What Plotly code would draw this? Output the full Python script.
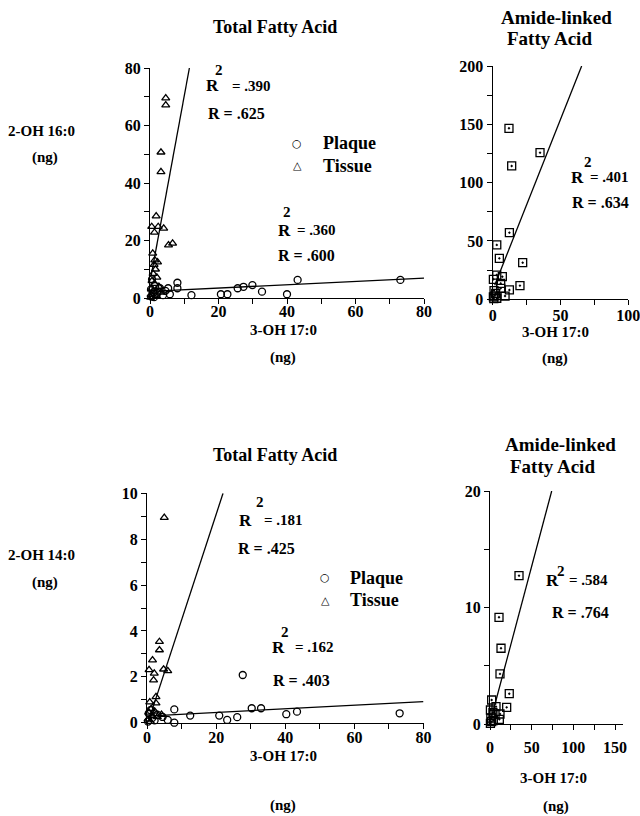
import plotly.graph_objects as go

# ---------------- DATA ----------------
# Top-left: 2-OH 16:0 vs 3-OH 17:0, total fatty acid
tl_tissue_x = [4.6, 4.6, 3.2, 3.2, 1.8, 0.5, 2.4, 4.0, 1.3, 5.4, 6.6, 1.4, 1.2, 1.6, 0.9, 2.0, 0.6, 1.3, 2.6, 0.4, 1.0, 3.2, 0.3, 1.8, 0.2, 2.2, 0.8]
tl_tissue_y = [69.5, 67.1, 50.7, 43.9, 28.5, 24.8, 24.8, 24.2, 22.8, 18.4, 19.0, 13.2, 11.6, 10.0, 8.5, 7.2, 6.0, 5.0, 4.0, 3.2, 2.4, 2.0, 1.2, 0.8, 0.2, 12.5, 15.5]
tl_plaque_x = [20.7, 22.6, 25.6, 27.3, 29.9, 32.7, 43.1, 40.0, 73.1, 8.0, 8.0, 12.1, 5.3, 5.8, 2.9, 3.8, 0.4, 1.0, 1.5, 0.6, 2.2, 0.3, 4.5, 1.2]
tl_plaque_y = [1.3, 1.3, 3.4, 3.9, 4.5, 2.2, 6.3, 1.3, 6.3, 5.3, 3.4, 1.0, 3.4, 1.3, 3.4, 1.0, 0.5, 2.0, 4.2, 6.5, 1.8, 3.0, 2.5, 0.3]
tl_tissue_fit_x = [0.3, 11.5]
tl_tissue_fit_y = [7.5, 80.0]
tl_plaque_fit_x = [0.0, 80.0]
tl_plaque_fit_y = [2.3, 6.9]

# Top-right: amide-linked fatty acid
tr_x = [12.0, 34.9, 14.0, 12.3, 3.0, 4.9, 22.1, 3.0, 7.1, 0.5, 5.9, 20.1, 12.3, 5.9, 9.1, 3.0, 2.2, 0.5, 1.0, 0.8, 1.6]
tr_y = [146.6, 125.7, 114.3, 57.1, 46.6, 35.1, 31.4, 20.8, 19.4, 17.1, 13.7, 11.7, 8.0, 9.4, 2.8, 0.9, 5.1, 2.0, 7.5, 0.5, 3.0]
tr_fit_x = [1.5, 65.6]
tr_fit_y = [12.1, 200.0]

# Bottom-left: 2-OH 14:0 vs 3-OH 17:0, total fatty acid
bl_tissue_x = [5.0, 3.6, 3.6, 1.6, 0.6, 2.1, 1.9, 4.8, 6.0, 2.6, 2.6, 1.2, 0.5, 1.5, 0.3, 2.2, 3.0, 0.8, 4.2, 1.0]
bl_tissue_y = [8.94, 3.53, 3.17, 2.73, 2.3, 2.15, 1.86, 2.33, 2.26, 1.13, 0.85, 0.6, 0.45, 0.3, 0.15, 0.5, 0.25, 0.9, 0.35, 0.05]
bl_plaque_x = [27.7, 7.9, 12.5, 20.9, 23.2, 26.1, 30.3, 33.0, 40.3, 43.4, 73.1, 6.0, 7.9, 4.5, 3.0, 1.5, 0.5, 2.2, 1.0, 0.3]
bl_plaque_y = [2.08, 0.58, 0.31, 0.31, 0.12, 0.24, 0.63, 0.63, 0.37, 0.48, 0.41, 0.12, 0.0, 0.25, 0.35, 0.2, 0.4, 0.1, 0.55, 0.05]
bl_tissue_fit_x = [0.5, 22.0]
bl_tissue_fit_y = [0.1, 10.0]
bl_plaque_fit_x = [0.0, 80.0]
bl_plaque_fit_y = [0.29, 0.92]

# Bottom-right: amide-linked fatty acid
br_x = [34.8, 10.8, 13.2, 12.0, 23.1, 2.0, 20.0, 7.2, 12.0, 6.0, 11.2, 2.0, 0.5, 1.0, 3.5, 0.5, 4.0]
br_y = [12.73, 9.16, 6.5, 4.3, 2.6, 2.06, 1.43, 1.49, 0.86, 0.86, 0.4, 0.2, 1.2, 0.5, 1.0, 0.05, 0.3]
br_fit_x = [0.0, 74.0]
br_fit_y = [0.1, 20.0]

legend_labels = ["Plaque", "Tissue"]

# ---------------- FIGURE ----------------
W, H = 640, 816
FONT = "Liberation Serif"


def px(x, y):
    return x / W, 1 - y / H


fig = go.Figure()

def scatter(x, y, xa, ya, symbol, name=None, size=7):
    fig.add_trace(go.Scatter(
        x=x, y=y, xaxis=xa, yaxis=ya, mode="markers", cliponaxis=False,
        marker=dict(symbol=symbol, size=size, color="black", line=dict(width=1.3, color="black")),
        name=name, showlegend=False))

def fitline(x, y, xa, ya):
    fig.add_trace(go.Scatter(x=x, y=y, xaxis=xa, yaxis=ya, mode="lines", cliponaxis=False,
                             line=dict(color="black", width=1.3), showlegend=False))

# top-left
fitline(tl_tissue_fit_x, tl_tissue_fit_y, "x", "y")
fitline(tl_plaque_fit_x, tl_plaque_fit_y, "x", "y")
scatter(tl_plaque_x, tl_plaque_y, "x", "y", "circle-open", "Plaque")
scatter(tl_tissue_x, tl_tissue_y, "x", "y", "triangle-up-open", "Tissue")
# top-right
fitline(tr_fit_x, tr_fit_y, "x2", "y2")
scatter(tr_x, tr_y, "x2", "y2", "square-open-dot", size=8)
# bottom-left
fitline(bl_tissue_fit_x, bl_tissue_fit_y, "x3", "y3")
fitline(bl_plaque_fit_x, bl_plaque_fit_y, "x3", "y3")
scatter(bl_plaque_x, bl_plaque_y, "x3", "y3", "circle-open", "Plaque")
scatter(bl_tissue_x, bl_tissue_y, "x3", "y3", "triangle-up-open", "Tissue")
# bottom-right
fitline(br_fit_x, br_fit_y, "x4", "y4")
scatter(br_x, br_y, "x4", "y4", "square-open-dot", size=8)

tickfont = dict(family=FONT, size=16, color="black", weight="bold")

def ax(domain, rng, anchor, dtick=None, minor=None, tickvals=None, standoff=0):
    d = dict(domain=domain, range=rng, anchor=anchor, showline=True, linecolor="black",
             linewidth=1.3, showgrid=False, zeroline=False, ticks="outside", ticklen=5,
             tickwidth=1.3, tickcolor="black", tickfont=tickfont, automargin=False,
             fixedrange=True, ticklabelstandoff=standoff, ticklabeloverflow="allow",
             minor=dict(dtick=minor, ticks="outside", ticklen=5, tickwidth=1.3,
                        tickcolor="black", showgrid=False))
    if tickvals is not None:
        d["tickmode"] = "array"
        d["tickvals"] = tickvals
        d["minor"]["tick0"] = 0
    else:
        d["dtick"] = dtick
        d["tick0"] = 0
    return d

fig.update_layout(
    width=W, height=H, margin=dict(l=0, r=0, t=0, b=0),
    paper_bgcolor="white", plot_bgcolor="white", showlegend=False,
    xaxis=ax([150 / W, 424 / W], [0, 80], "y", 20, 10, standoff=-6),
    yaxis=ax([1 - 298 / H, 1 - 68 / H], [0, 80], "x", 20, 10),
    xaxis2=ax([492.7 / W, 628.3 / W], [0, 100], "y2", 50, 25, standoff=-4),
    yaxis2=ax([1 - 299.3 / H, 1 - 66 / H], [0, 200], "x2", 50, 25),
    xaxis3=ax([147 / W, 423.5 / W], [0, 80], "y3", 20, 10, standoff=-5),
    yaxis3=ax([1 - 722.7 / H, 1 - 493.3 / H], [0, 10], "x3", 2, 1),
    xaxis4=ax([490 / W, 623.4 / W], [0, 160], "y4", minor=25, tickvals=[0, 50, 100, 150], standoff=4),
    yaxis4=ax([1 - 724 / H, 1 - 491 / H], [0, 20], "x4", 10, 5),
)

annots = []

def text(t, x, y, size=15, xanchor="center", family=FONT):
    X, Y = px(x, y)
    annots.append(dict(text=t, x=X, y=Y, xref="paper", yref="paper", xanchor=xanchor,
                       yanchor="middle", showarrow=False,
                       font=dict(family=family, size=size, color="black", weight="bold")))

# titles
text("Total Fatty Acid", 275, 27, 18)
text("Amide-linked", 556, 17, 19)
text("Fatty Acid", 549, 38, 19)
text("Total Fatty Acid", 275, 455, 18)
text("Amide-linked", 560, 445, 19)
text("Fatty Acid", 552, 466, 19)
# axis titles
text("2-OH 16:0", 41, 131, 15)
text("(ng)", 45, 158, 15)
text("2-OH 14:0", 41, 555, 15)
text("(ng)", 45, 582, 15)
text("3-OH 17:0", 283, 330, 15)
text("(ng)", 283, 357, 15)
text("3-OH 17:0", 555, 332, 15)
text("(ng)", 555, 358, 15)
text("3-OH 17:0", 283, 756, 15)
text("(ng)", 283, 805, 15)
text("3-OH 17:0", 553, 778, 15)
text("(ng)", 556, 806, 15)

# legends (drawn as text)
for (sx, lx, y0) in [(297, 321, 143), (325, 348, 577.5)]:
    text("○", sx, y0, 11, family="DejaVu Sans")
    text(legend_labels[0], lx, y0, 18, "left")
    text("△", sx, y0 + 22.5, 11, family="DejaVu Sans")
    text(legend_labels[1], lx, y0 + 22.5, 18, "left")

# regression statistics
def rstat(rx, ry, twox, twoy, eqx, r2, rrow_x, rrow_y, rtext):
    text("R", rx, ry, 17, "left")
    text("2", twox, twoy, 15, "center")
    text("= " + r2, eqx, ry, 15, "left")
    text("R = " + rtext, rrow_x, rrow_y, 16, "left")

rstat(204, 86, 219, 70, 230, ".390", 206, 114, ".625")
rstat(276, 230, 287, 212, 295, ".360", 276, 255, ".600")
rstat(569, 177, 588, 162, 588, ".401", 570, 202, ".634")
rstat(237, 520, 260, 502, 262, ".181", 236, 548, ".425")
rstat(270, 647, 285, 632, 293, ".162", 271, 680, ".403")
rstat(544, 580, 561, 571, 567, ".584", 550, 612, ".764")

fig.update_layout(annotations=annots)
fig.write_html("out.html", config={"displayModeBar": False},
               post_script="document.body.style.margin='0px';document.body.style.overflow='hidden';")
